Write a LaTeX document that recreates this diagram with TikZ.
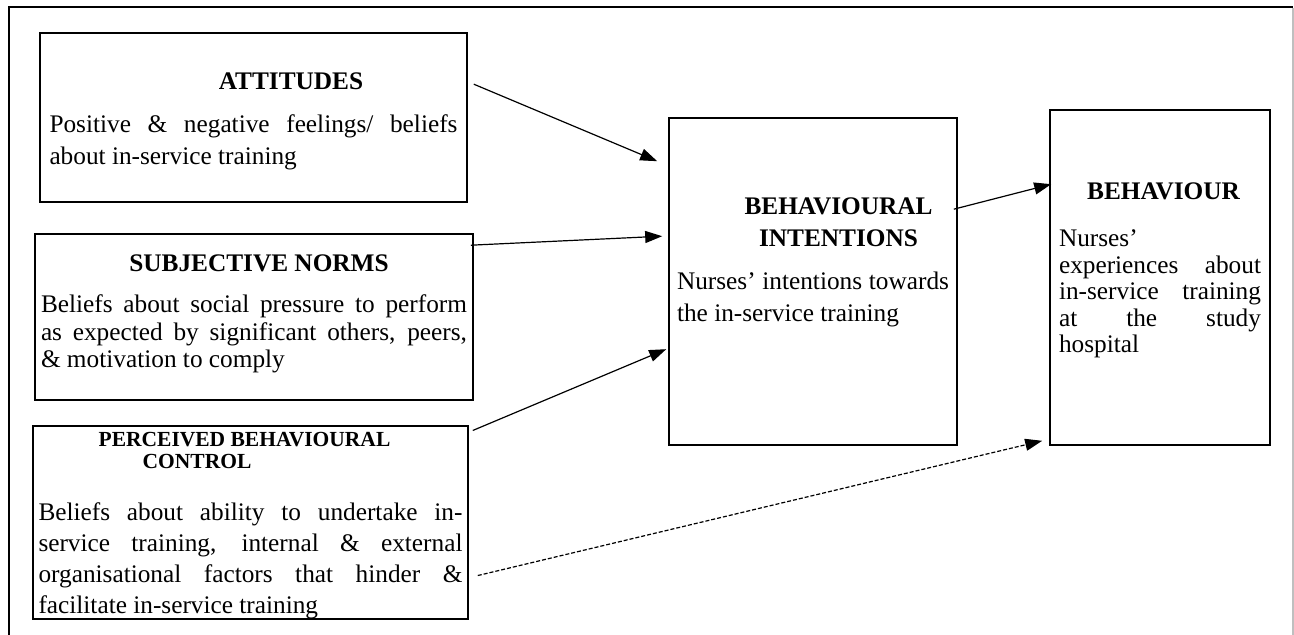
\documentclass[tikz,border=0pt]{standalone}
\usepackage{fontspec}
\setmainfont{Liberation Serif}
\usetikzlibrary{arrows.meta,calc}
\hyphenpenalty=10000
\exhyphenpenalty=10000
\newcommand{\tpbtext}[5]{{\centering\bfseries\rule{0pt}{#1}#2\par}\vspace{#3}#4\rule[-#5]{0pt}{#5}\par}

\begin{document}
\begin{tikzpicture}[x=0.5pt,y=-0.5pt,
  tpbbox/.style={draw,line width=0.8pt,inner sep=0pt,align=justify,font=\fontsize{12.65}{#1}\selectfont},
  arr/.style={-{Triangle[length=8.5pt,width=6pt]},line width=0.6pt},
  darr/.style={arr,dash pattern=on 2pt off 1pt}]
\useasboundingbox (0,0) rectangle (1294,635);
\draw[line width=1pt] (9,635) -- (9,7) -- (1293,7);
\draw[gray!50,line width=0.6pt] (1293,8) -- (1293,635);

\node[tpbbox=16pt,minimum width=213.5pt,minimum height=84.5pt,text width=204pt] (att) at (253.5,117.5)
  {\tpbtext{28.5pt}{\hspace*{37.5pt}ATTITUDES}{5.5pt}{Positive \& negative feelings/ beliefs\linebreak about in-service training}{18.5pt}};
\node[tpbbox=13.75pt,minimum width=219pt,minimum height=83pt,text width=213pt] (sn) at (254,317)
  {\tpbtext{19pt}{\hspace*{5pt}SUBJECTIVE NORMS}{6.75pt}{Beliefs about social pressure to perform\linebreak as expected by significant others, peers,\linebreak \& motivation to comply}{16pt}};
\node[tpbbox=15.5pt,minimum width=217.5pt,minimum height=95.5pt,text width=212pt] (pbc) at (250.5,522.5)
  {\tpbtext{10pt}{\fontsize{10.75}{11}\selectfont\hspace*{-6pt}PERCEIVED BEHAVIOURAL\\\hspace*{-53.5pt}CONTROL}{10.5pt}{Beliefs about ability to undertake in-\linebreak service training, internal \& external\linebreak organisational factors that hinder \&\linebreak facilitate in-service training}{0pt}};
\node[tpbbox=16pt,minimum width=144pt,minimum height=163.5pt,text width=136pt] (bi) at (813,281.5)
  {\tpbtext{48pt}{\hspace*{25.5pt}BEHAVIOURAL\\\hspace*{25.5pt}INTENTIONS}{5.5pt}{Nurses' intentions towards\linebreak the in-service training}{61.5pt}};
\node[tpbbox=13.25pt,minimum width=110pt,minimum height=167.5pt,text width=101pt] (beh) at (1160,277.5)
  {\tpbtext{45pt}{\hspace*{3.5pt}BEHAVIOUR}{10.25pt}{Nurses'\\ experiences about\linebreak in-service training\linebreak at the study\linebreak hospital}{46pt}};

\draw[arr] ($(att.north east)+(6,52)$) -- ($(bi.north west)+(-11,44)$);
\draw[arr] ($(sn.north east)+(-3,12)$) -- ($(bi.north west)+(-6,119)$);
\draw[arr] ($(pbc.north east)+(4,5)$) -- ($(bi.north west)+(-2,232)$);
\draw[arr] ($(bi.north east)+(-4,92)$) -- ($(beh.north west)+(2,75)$);
\draw[darr] ($(pbc.south east)+(9,-44)$) -- ($(beh.south west)+(-7,-5)$);
\end{tikzpicture}
\end{document}
